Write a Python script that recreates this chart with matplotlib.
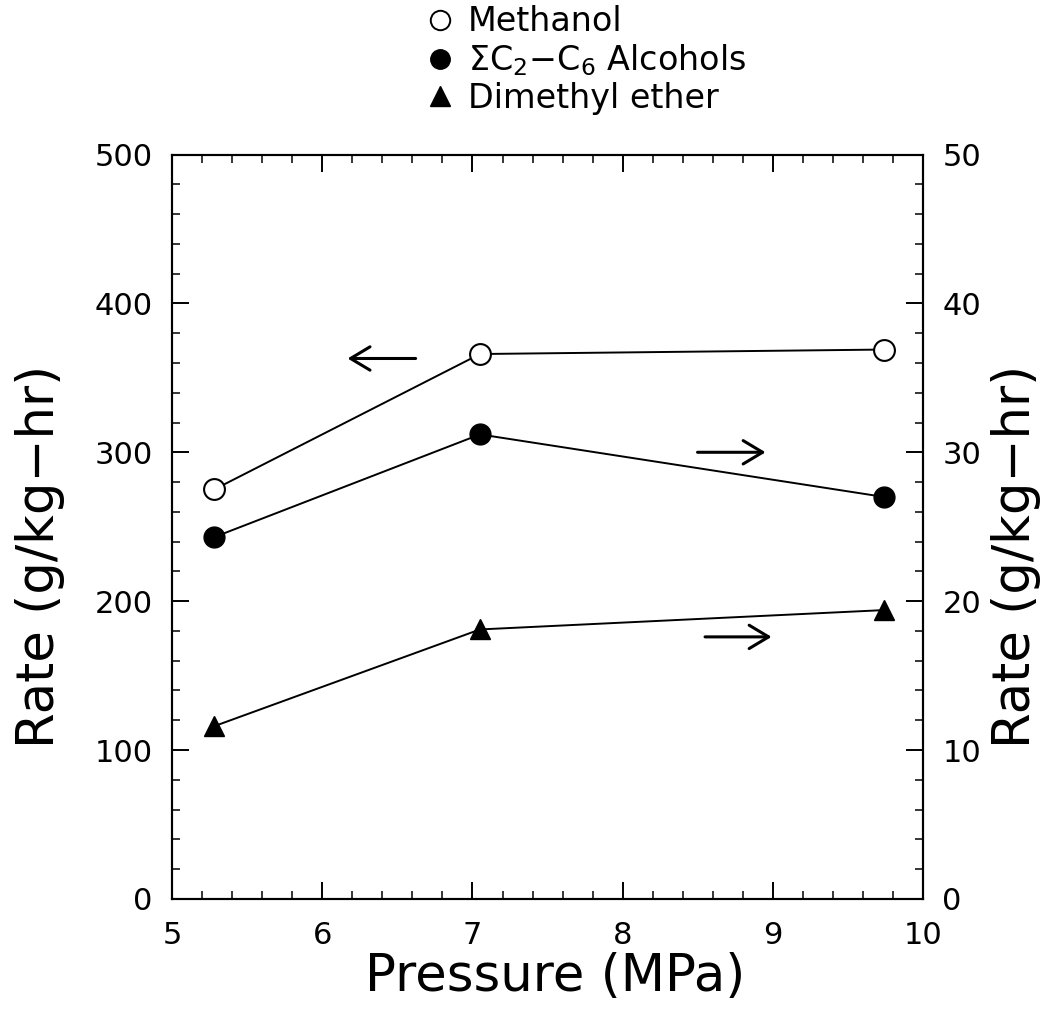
import matplotlib
matplotlib.use("Agg")
import matplotlib.pyplot as plt
from matplotlib.lines import Line2D
from matplotlib.ticker import MultipleLocator

# Data
pressure = [5.28, 7.05, 9.74]
methanol = [275, 366, 369]        # left axis
alcohols = [24.3, 31.2, 27.0]     # right axis
dme = [11.6, 18.1, 19.4]          # right axis

plt.rcParams["font.family"] = "DejaVu Sans"

fig = plt.figure(figsize=(10.43, 10.10), dpi=100)
ax = fig.add_axes([0.165, 0.110, 0.720, 0.737])
ax2 = ax.twinx()

# -----------------------------
# Series
# -----------------------------
ax.plot(pressure, methanol, color="black", linewidth=1.4,
        marker="o", markersize=15, markerfacecolor="white",
        markeredgecolor="black", markeredgewidth=1.5, zorder=3)

ax2.plot(pressure, alcohols, color="black", linewidth=1.4,
         marker="o", markersize=15, markerfacecolor="black",
         markeredgecolor="black", zorder=3)

ax2.plot(pressure, dme, color="black", linewidth=1.4,
         marker="^", markersize=15, markerfacecolor="black",
         markeredgecolor="black", zorder=3)

# Arrows pointing to the axis each series uses
arrow = dict(arrowstyle="->,head_length=0.5,head_width=0.3",
             color="black", lw=2.2, mutation_scale=28)
ax.annotate("", xy=(6.15, 363), xytext=(6.64, 363), arrowprops=arrow)
ax2.annotate("", xy=(8.97, 30.0), xytext=(8.48, 30.0), arrowprops=arrow)
ax2.annotate("", xy=(9.01, 17.6), xytext=(8.53, 17.6), arrowprops=arrow)

# -----------------------------
# Axes
# -----------------------------
ax.set_xlim(5, 10)
ax.set_ylim(0, 500)
ax2.set_ylim(0, 50)

ax.xaxis.set_major_locator(MultipleLocator(1))
ax.xaxis.set_minor_locator(MultipleLocator(0.2))
ax.yaxis.set_major_locator(MultipleLocator(100))
ax.yaxis.set_minor_locator(MultipleLocator(20))
ax2.yaxis.set_major_locator(MultipleLocator(10))
ax2.yaxis.set_minor_locator(MultipleLocator(2))

ax.tick_params(axis="x", which="both", direction="in", top=True,
               labelsize=22, pad=16)
ax.tick_params(axis="y", which="both", direction="in", right=False,
               labelsize=22, pad=14)
ax2.tick_params(axis="y", which="both", direction="in",
                labelsize=22, pad=14)
for a in (ax, ax2):
    a.tick_params(which="major", length=12, width=1.4)
    a.tick_params(which="minor", length=6, width=1.1)
    for s in a.spines.values():
        s.set_linewidth(1.5)

ax.set_xlabel("Pressure (MPa)", fontsize=37)
ax.set_ylabel("Rate (g/kg\u2212hr)", fontsize=37)
ax2.set_ylabel("Rate (g/kg\u2212hr)", fontsize=37)
ax.xaxis.set_label_coords(0.51, -0.072)
ax.yaxis.set_label_coords(-0.143, 0.46)
ax2.yaxis.set_label_coords(1.090, 0.46)

# -----------------------------
# Legend above the plot
# -----------------------------
handles = [
    Line2D([], [], linestyle="none", marker="o", markersize=14,
           markerfacecolor="white", markeredgecolor="black", markeredgewidth=1.4),
    Line2D([], [], linestyle="none", marker="o", markersize=14,
           markerfacecolor="black", markeredgecolor="black"),
    Line2D([], [], linestyle="none", marker="^", markersize=14,
           markerfacecolor="black", markeredgecolor="black"),
]
labels = ["Methanol", r"$\Sigma$C$_2$$-$C$_6$ Alcohols", "Dimethyl ether"]
fig.legend(handles, labels, loc="upper left", bbox_to_anchor=(0.393, 1.008),
           frameon=False, fontsize=24, handletextpad=0.35, labelspacing=0.12,
           handlelength=1.0, borderaxespad=0)

fig.savefig("out.png", dpi=100)
